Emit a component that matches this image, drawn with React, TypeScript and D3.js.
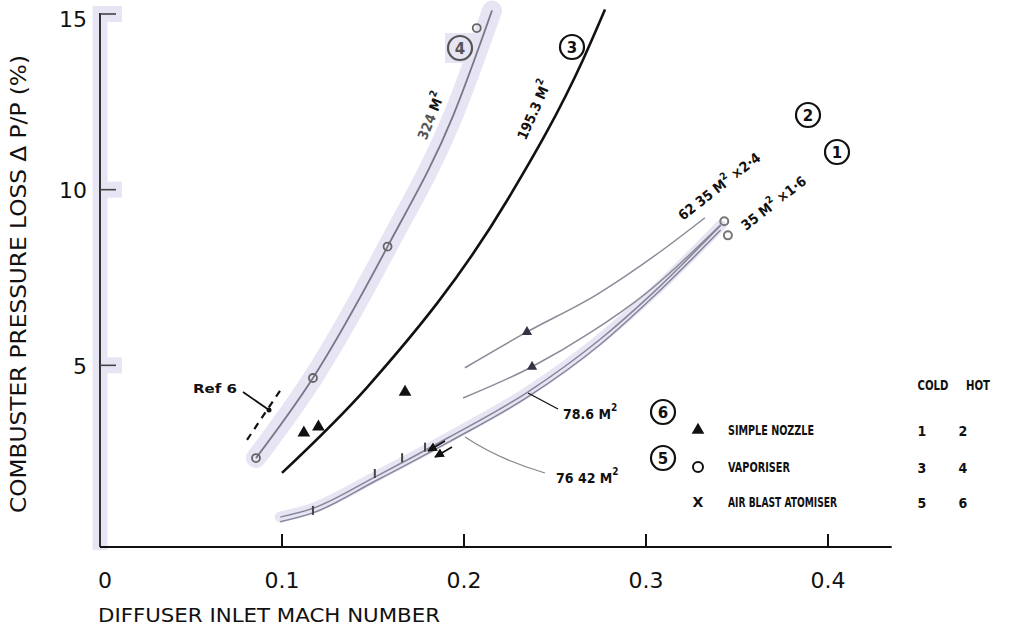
import React from "react";
import * as d3 from "d3";

// ---------- DATA (mach number, pressure loss %) ----------
const xTickValues = [0, 0.1, 0.2, 0.3, 0.4];
const xTickLabels = ["0", "0.1", "0.2", "0.3", "0.4"];
const yTickValues = [5, 10, 15];
const yTickLabels = ["5", "10", "15"];

// curve 4 : vaporiser hot, 324 M^2
const curveVaporiserHot: [number, number][] = [
  [0.0857, 2.36], [0.117, 4.64], [0.158, 8.38], [0.194, 12.1], [0.2154, 15.1],
];
// curve 3 : vaporiser cold, 195.3 M^2
const curveVaporiserCold: [number, number][] = [
  [0.1, 1.94], [0.147, 4.39], [0.224, 9.72], [0.2654, 13.7], [0.2775, 15.13],
];
// curve 2 : simple nozzle hot, 62.35 M^2 x2.4
const curveNozzleHot: [number, number][] = [
  [0.2005, 4.93], [0.2346, 5.95], [0.2725, 7.0], [0.3093, 8.29], [0.3324, 9.2],
];
// curve 1 : simple nozzle cold, 62.35 M^2 x1.6
const curveNozzleCold: [number, number][] = [
  [0.1995, 4.07], [0.2374, 4.96], [0.27, 5.95], [0.3, 7.05], [0.341, 9.0],
];
// curve 5 : air blast cold, 76.42 M^2
const curveAirBlastCold: [number, number][] = [
  [0.099, 0.55], [0.117, 0.8], [0.151, 1.7], [0.192, 2.83], [0.235, 4.1], [0.275, 5.6], [0.305, 7.0], [0.341, 8.85],
];
// curve 6 : air blast hot, 78.6 M^2
const curveAirBlastHot: [number, number][] = [
  [0.099, 0.68], [0.117, 0.93], [0.151, 1.82], [0.192, 2.96], [0.235, 4.24], [0.275, 5.75], [0.305, 7.12], [0.341, 8.98],
];
// Ref 6 dashed line
const curveRef6: [number, number][] = [[0.0808, 2.88], [0.1, 4.36]];

// markers
const vaporiserPoints: [number, number][] = [[0.0857, 2.36], [0.117, 4.64], [0.158, 8.38], [0.207, 14.6]];
const nozzleColdPoints: [number, number][] = [[0.112, 3.08], [0.12, 3.25], [0.1676, 4.24]];
const nozzleCurvePoints: [number, number][] = [[0.2374, 4.96], [0.2346, 5.95]];
const airBlastPoints: [number, number][] = [[0.117, 0.8], [0.151, 1.85], [0.166, 2.3], [0.1786, 2.6]];
const endPoints: [number, number][] = [[0.343, 9.1], [0.345, 8.7]];

const legendNames = ["SIMPLE NOZZLE", "VAPORISER", "AIR BLAST ATOMISER"];
const legendCold = ["1", "3", "5"];
const legendHot = ["2", "4", "6"];

// ---------- LAYOUT ----------
const W = 1010, H = 627;
const x = d3.scaleLinear().domain([0, 0.4]).range([100, 828]);
const y = d3.scaleLinear().domain([0, 15]).range([541, 14]);
const AXIS_Y = 547;
const LAV = "#e7e5f3";
const FONT = "DejaVu Sans, sans-serif";
const COND = "DejaVu Sans Condensed, DejaVu Sans, sans-serif";

const line = d3
  .line<[number, number]>()
  .x((d) => x(d[0]))
  .y((d) => y(d[1]))
  .curve(d3.curveMonotoneX);

const tri = d3.symbol().type(d3.symbolTriangle).size(70)();

function Circled({ cx, cy, n, color = "#111" }: { cx: number; cy: number; n: string; color?: string }) {
  return (
    <g>
      <circle cx={cx} cy={cy} r={12} fill="none" stroke={color} strokeWidth={2.2} />
      <text x={cx} y={cy + 1} textAnchor="middle" dominantBaseline="central" fontFamily={FONT} fontWeight="bold" fontSize={15} fill={color}>
        {n}
      </text>
    </g>
  );
}

function M2({ children }: { children: string }) {
  return (
    <>
      {children}
      <tspan dy={-7} fontSize={10}>2</tspan>
    </>
  );
}

export default function App() {
  return (
    <svg width={W} height={H} style={{ position: "absolute", left: 0, top: 0, background: "#fff" }}>
      <defs>
        <marker id="ah" viewBox="0 0 10 10" refX="9" refY="5" markerWidth="6" markerHeight="6" orient="auto">
          <path d="M0,0 L10,5 L0,10 z" fill="#111" />
        </marker>
      </defs>

      {/* lavender highlights */}
      <line x1={100} x2={100} y1={6} y2={550} stroke={LAV} strokeWidth={15} />
      {yTickValues.map((v) => (
        <rect key={"th" + v} x={100} y={y(v) - 8} width={22} height={16} fill={LAV} />
      ))}
      <path d={line(curveVaporiserHot.slice(0, 5)) || ""} fill="none" stroke={LAV} strokeWidth={20} strokeLinecap="round" />
      <rect x={445} y={33} width={30} height={30} fill={LAV} />
      <path d={line(curveAirBlastHot) || ""} fill="none" stroke={LAV} strokeWidth={11} strokeLinecap="round" />

      {/* axes */}
      <line x1={100} x2={100} y1={13} y2={AXIS_Y} stroke="#333" strokeWidth={2} />
      <line x1={100} x2={x(0.435)} y1={AXIS_Y} y2={AXIS_Y} stroke="#111" strokeWidth={2} />
      {yTickValues.map((v) => (
        <line key={"yt" + v} x1={100} x2={116} y1={y(v)} y2={y(v)} stroke="#444" strokeWidth={1.6} />
      ))}
      {xTickValues.filter((v) => v > 0).map((v) => (
        <line key={"xt" + v} x1={x(v)} x2={x(v)} y1={AXIS_Y} y2={AXIS_Y - 13} stroke="#111" strokeWidth={2} />
      ))}
      {yTickValues.map((v, i) => (
        <text key={"yl" + v} x={87} y={y(v) + (v === 15 ? 5 : 1)} textAnchor="end" dominantBaseline="central" fontFamily={FONT} fontSize={22} fill="#111">
          {yTickLabels[i]}
        </text>
      ))}
      {xTickValues.map((v, i) => (
        <text key={"xl" + v} x={x(v) + (v === 0 ? 5 : 0)} y={580} textAnchor="middle" dominantBaseline="central" fontFamily={FONT} fontSize={22} fill="#111">
          {xTickLabels[i]}
        </text>
      ))}
      <text x={98} y={615} dominantBaseline="central" fontFamily={FONT} fontSize={20} textLength={342} lengthAdjust="spacingAndGlyphs" fill="#111">
        DIFFUSER INLET MACH NUMBER
      </text>
      <text transform="translate(19,284) rotate(-90)" textAnchor="middle" dominantBaseline="central" fontFamily={FONT} fontSize={21} textLength={458} lengthAdjust="spacingAndGlyphs" fill="#111">
        COMBUSTER PRESSURE LOSS Δ P/P (%)
      </text>

      {/* curves */}
      <path d={line(curveVaporiserHot) || ""} fill="none" stroke="#77778a" strokeWidth={1.8} />
      <path d={line(curveVaporiserCold) || ""} fill="none" stroke="#111" strokeWidth={2.6} />
      <path d={line(curveNozzleHot) || ""} fill="none" stroke="#8a8a98" strokeWidth={1.5} />
      <path d={line(curveNozzleCold) || ""} fill="none" stroke="#8a8a98" strokeWidth={1.5} />
      <path d={line(curveAirBlastCold) || ""} fill="none" stroke="#85859a" strokeWidth={1.5} />
      <path d={line(curveAirBlastHot) || ""} fill="none" stroke="#85859a" strokeWidth={1.5} />
      <path d={line(curveRef6) || ""} fill="none" stroke="#111" strokeWidth={2.2} strokeDasharray="7,6" />

      {/* markers */}
      {vaporiserPoints.map((p, i) => (
        <circle key={"vp" + i} cx={x(p[0])} cy={y(p[1])} r={4} fill="none" stroke="#666" strokeWidth={1.8} />
      ))}
      {nozzleColdPoints.map((p, i) => (
        <path key={"nc" + i} d={tri || ""} transform={`translate(${x(p[0])},${y(p[1])})`} fill="#111" />
      ))}
      {nozzleCurvePoints.map((p, i) => (
        <path key={"nk" + i} d={tri || ""} transform={`translate(${x(p[0])},${y(p[1])}) scale(0.8)`} fill="#334" />
      ))}
      {airBlastPoints.map((p, i) => (
        <line key={"ab" + i} x1={x(p[0])} x2={x(p[0])} y1={y(p[1]) - 7} y2={y(p[1]) + 2} stroke="#444" strokeWidth={2} />
      ))}
      {endPoints.map((p, i) => (
        <circle key={"ep" + i} cx={x(p[0])} cy={y(p[1])} r={4} fill="none" stroke="#777" strokeWidth={2} />
      ))}
      <line x1={445} y1={441} x2={428} y2={451} stroke="#111" strokeWidth={1.6} markerEnd="url(#ah)" />
      <line x1={452} y1={447} x2={435} y2={457} stroke="#111" strokeWidth={1.6} markerEnd="url(#ah)" />

      {/* Ref 6 */}
      <text x={193} y={388} dominantBaseline="central" fontFamily={COND} fontWeight="bold" fontSize={13} textLength={44} lengthAdjust="spacingAndGlyphs" fill="#111">
        Ref  6
      </text>
      <line x1={243} y1={392} x2={269} y2={410} stroke="#111" strokeWidth={1.8} />
      <circle cx={269} cy={410} r={2.5} fill="#111" />

      {/* curve labels */}
      <text transform="translate(431,116) rotate(-68)" textAnchor="middle" dominantBaseline="central" fontFamily={COND} fontWeight="bold" fontSize={14} fill="#555">
        324 <tspan fill="#111"><M2>M</M2></tspan>
      </text>
      <text transform="translate(534,110) rotate(-66)" textAnchor="middle" dominantBaseline="central" fontFamily={COND} fontWeight="bold" fontSize={14} fill="#111">
        <M2>195.3 M</M2>
      </text>
      <text transform="translate(683,221) rotate(-38)" fontFamily={COND} fontWeight="bold" fontSize={14} fill="#111">
        <M2>62 35 M</M2>
        <tspan dy={7}>{"  ×2·4"}</tspan>
      </text>
      <text transform="translate(746,231) rotate(-38)" fontFamily={COND} fontWeight="bold" fontSize={14} fill="#111">
        <M2>35 M</M2>
        <tspan dy={7}>{"  ×1·6"}</tspan>
      </text>

      <Circled cx={460} cy={48} n="4" color="#555" />
      <Circled cx={572} cy={47} n="3" />
      <Circled cx={808} cy={115} n="2" />
      <Circled cx={837} cy={152} n="1" />
      <Circled cx={663} cy={412} n="6" />
      <Circled cx={663} cy={458} n="5" />

      {/* area labels */}
      <line x1={528} y1={393} x2={558} y2={409} stroke="#111" strokeWidth={1.4} />
      <text x={563} y={414} dominantBaseline="central" fontFamily={COND} fontWeight="bold" fontSize={14} fill="#111">
        <M2>78.6 M</M2>
      </text>
      <path d="M465,437 Q500,460 545,473" fill="none" stroke="#888" strokeWidth={1.3} />
      <text x={556} y={478} dominantBaseline="central" fontFamily={COND} fontWeight="bold" fontSize={14} fill="#111">
        <M2>76 42 M</M2>
      </text>

      {/* legend */}
      <text x={933} y={385} textAnchor="middle" dominantBaseline="central" fontFamily={COND} fontWeight="bold" fontSize={14} textLength={31} lengthAdjust="spacingAndGlyphs" fill="#111">COLD</text>
      <text x={978} y={385} textAnchor="middle" dominantBaseline="central" fontFamily={COND} fontWeight="bold" fontSize={14} textLength={24} lengthAdjust="spacingAndGlyphs" fill="#111">HOT</text>
      {legendNames.map((name, i) => {
        const ry = [430, 467, 502][i];
        const tl = [86, 62, 109][i];
        return (
          <g key={name}>
            {i === 0 && <path d={tri || ""} transform={`translate(698,${ry})`} fill="#111" />}
            {i === 1 && <circle cx={698} cy={ry} r={5} fill="none" stroke="#111" strokeWidth={2} />}
            {i === 2 && (
              <text x={698} y={ry} textAnchor="middle" dominantBaseline="central" fontFamily={FONT} fontWeight="bold" fontSize={14} fill="#111">X</text>
            )}
            <text x={728} y={ry} dominantBaseline="central" fontFamily={COND} fontWeight="bold" fontSize={14} textLength={tl} lengthAdjust="spacingAndGlyphs" fill="#111">
              {name}
            </text>
            <text x={922} y={ry + 1} textAnchor="middle" dominantBaseline="central" fontFamily={COND} fontWeight="bold" fontSize={14} fill="#111">{legendCold[i]}</text>
            <text x={963} y={ry + 1} textAnchor="middle" dominantBaseline="central" fontFamily={COND} fontWeight="bold" fontSize={14} fill="#111">{legendHot[i]}</text>
          </g>
        );
      })}
    </svg>
  );
}
